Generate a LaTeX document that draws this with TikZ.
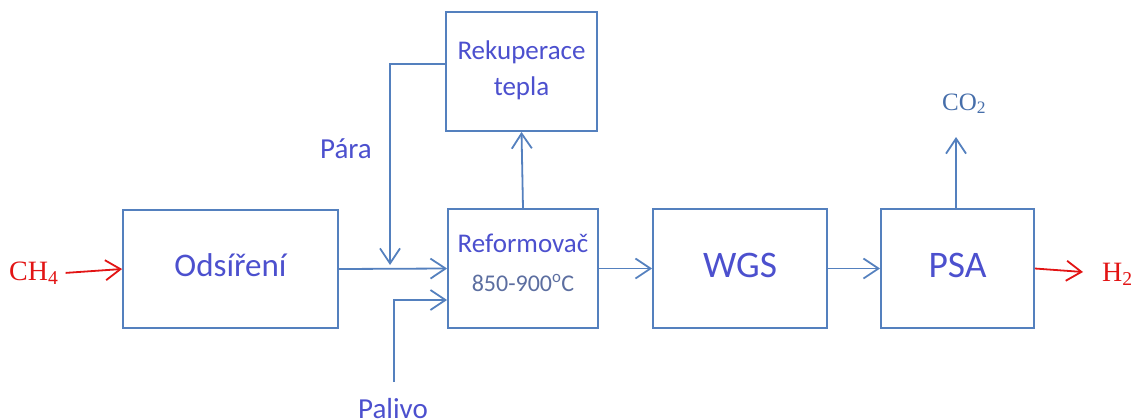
\documentclass[tikz,border=0pt]{standalone}
\usepackage{fontspec}
\setmainfont{Carlito}
\newfontfamily\chemfont{Liberation Serif}
\usetikzlibrary{arrows.meta}
\definecolor{flowline}{RGB}{84,128,190}
\definecolor{labelblue}{RGB}{76,80,206}
\definecolor{tempgray}{RGB}{92,110,160}
\definecolor{feedred}{RGB}{226,20,20}
\definecolor{gasblue}{RGB}{70,110,170}
\tikzset{
  unit/.style={draw=flowline, line width=1.8pt, inner sep=0pt},
  unittext/.style={inner sep=0pt, text=labelblue, align=center},
  flow/.style={draw=flowline, line width=1.8pt, -{Straight Barb[length=15pt,width=20pt,line width=1.8pt]}},
  redflow/.style={draw=feedred, line width=1.8pt, -{Straight Barb[length=15pt,width=20pt,line width=1.8pt]}},
  chem/.style={inner sep=0pt, anchor=base west, font=\chemfont\fontsize{28}{30}\selectfont},
  tag/.style={inner sep=0pt, text=labelblue, font=\fontsize{29}{32}\selectfont}
}
\begin{document}
\begin{tikzpicture}[x=1pt, y=-1pt]
  \useasboundingbox (0,0) rectangle (1139,418);

  % process units
  \node[unit, minimum width=215pt, minimum height=118pt] (odsi) at (230.5,269) {};
  \node[unit, minimum width=150pt, minimum height=119pt] (ref) at (523,268.5) {};
  \node[unit, minimum width=151pt, minimum height=119pt] (rek) at (521.5,71.5) {};
  \node[unit, minimum width=174pt, minimum height=119pt] (wgs) at (740,268.5) {};
  \node[unit, minimum width=153pt, minimum height=119pt] (psa) at (957.5,268.5) {};

  % unit labels
  \node[unittext, font=\fontsize{33}{38}\selectfont] (odsitext) at (230.5,265) {Ods\'{\i}\v{r}en\'{\i}};
  \node[unittext, font=\fontsize{27}{39}\selectfont] (reftext) at (523,263)
    {Reformova\v{c}\\{\color{tempgray}\fontsize{24}{39}\selectfont 850-900\textsuperscript{o}C}};
  \node[unittext, font=\fontsize{27}{36}\selectfont] (rektext) at (521.5,70) {Rekuperace\\tepla};
  \node[unittext, font=\fontsize{37.5}{42}\selectfont] (wgstext) at (740,265) {WGS};
  \node[unittext, font=\fontsize{37.5}{42}\selectfont] (psatext) at (957.5,265) {PSA};

  % streams in and out
  \node[chem, text=feedred] (ch4) at (9,280) {CH\textsubscript{4}};
  \node[chem, text=feedred] (h2) at (1102,281) {H\textsubscript{2}};
  \node[chem, text=gasblue, font=\chemfont\fontsize{25}{28}\selectfont] (co2) at (942,110) {CO\textsubscript{2}};
  \node[tag, anchor=base east] (para) at (372,158) {P\'ara};
  \node[tag, anchor=base] (palivo) at (393,418) {Palivo};

  % routing points
  \coordinate (steamcorner) at (390,64);
  \coordinate (steamtip) at (390,265);
  \coordinate (fuelstart) at (394,382);
  \coordinate (fuelcorner) at (394,300);
  \coordinate (co2tip) at (956,137);
  \coordinate (h2tip) at (1083,272);

  % connectors
  \draw[redflow] (ch4.east) ++(7,0) -- (odsi.west);
  \draw[flow] (odsi.east) -- (ref.west);
  \draw[flow] (rek.west |- steamcorner) -- (steamcorner) -- (steamtip);
  \draw[flow] (fuelstart) -- (fuelcorner) -- (ref.west |- fuelcorner);
  \draw[flow] (ref.north) -- (rek.south);
  \draw[flow] (ref.east) -- (wgs.west);
  \draw[flow] (wgs.east) -- (psa.west);
  \draw[flow] (psa.north -| co2tip) -- (co2tip);
  \draw[redflow] (psa.east) -- (h2tip);
\end{tikzpicture}
\end{document}
